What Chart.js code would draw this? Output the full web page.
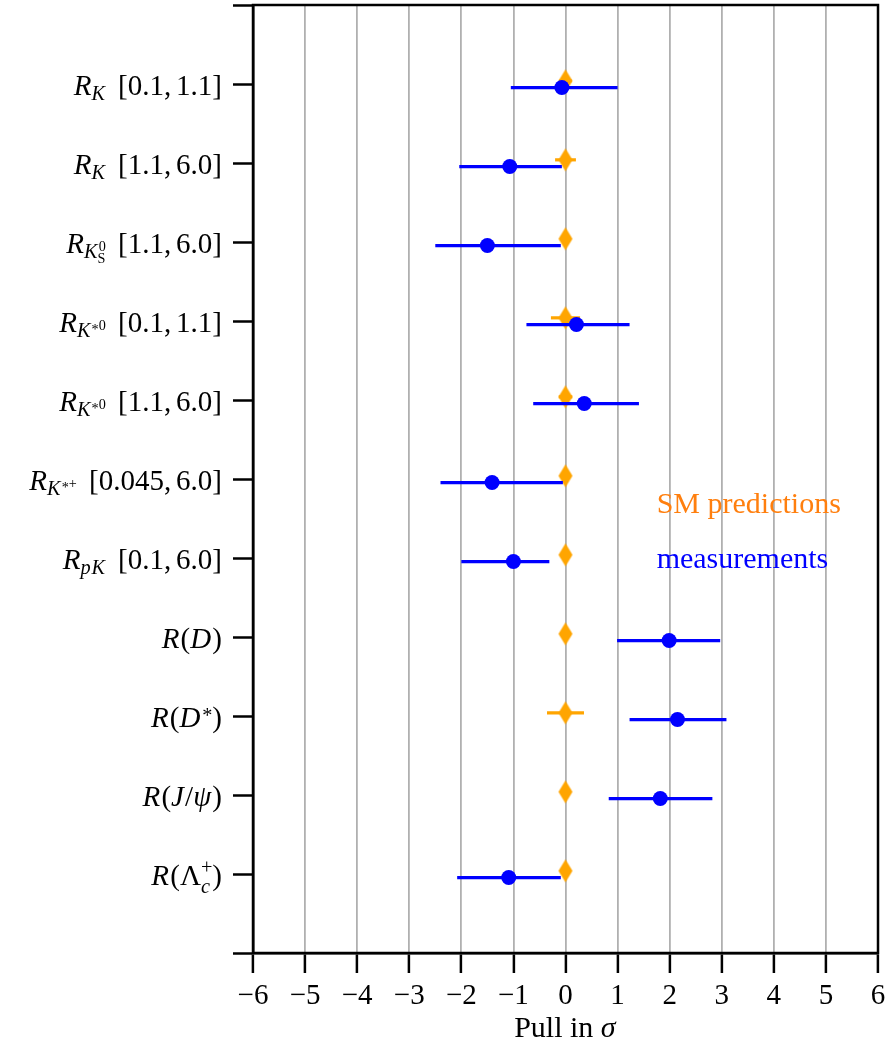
<!DOCTYPE html>
<html>
<head>
<meta charset="utf-8">
<script src="https://cdn.jsdelivr.net/npm/chart.js@4"></script>
<style>
  body { margin: 0; background: #fff; }
</style>
</head>
<body>
<canvas id="pulls" width="886" height="1046"></canvas>
<script>
// labels in matplotlib-style mathtext, top row first
const categories = [
  '$R_K$ $[0.1, 1.1]$',
  '$R_K$ $[1.1, 6.0]$',
  '$R_{K^0_\\mathrm{S}}$ $[1.1, 6.0]$',
  '$R_{K^{*0}}$ $[0.1, 1.1]$',
  '$R_{K^{*0}}$ $[1.1, 6.0]$',
  '$R_{K^{*+}}$ $[0.045, 6.0]$',
  '$R_{pK}$ $[0.1, 6.0]$',
  '$R(D)$',
  '$R(D^*)$',
  '$R(J/\\psi)$',
  '$R(\\Lambda_c^+)$'
];
const measured  = [-0.07, -1.07, -1.50, 0.21, 0.36, -1.41, -1.00, 1.99, 2.15, 1.82, -1.09];
const measLow   = [-1.05, -2.04, -2.50, -0.75, -0.62, -2.40, -2.00, 0.99, 1.23, 0.83, -2.08];
const measHigh  = [1.00, -0.07, -0.09, 1.23, 1.41, -0.05, -0.31, 2.97, 3.09, 2.82, -0.09];
const smPred    = [0, 0, 0, 0, 0, 0, 0, 0, 0, 0, 0];
const smErr     = [0.12, 0.20, 0, 0.28, 0.13, 0, 0, 0.10, 0.355, 0, 0];
const xTicks    = [-6, -5, -4, -3, -2, -1, 0, 1, 2, 3, 4, 5, 6];

const SERIF = '"Liberation Serif", "Times New Roman", serif';
const BLUE = '#0000ff', ORANGE = '#ffa500';

// thin diamond marker like matplotlib 'd'
const diamond = document.createElement('canvas');
diamond.width = 16; diamond.height = 25;
(function () {
  const c = diamond.getContext('2d');
  c.fillStyle = ORANGE;
  c.beginPath();
  c.moveTo(8, 1); c.lineTo(15, 12.5); c.lineTo(8, 24); c.lineTo(1, 12.5);
  c.closePath(); c.fill();
})();

// --- tiny mathtext renderer ---
const GREEK = { Lambda: ['Λ', false], psi: ['ψ', true], sigma: ['σ', true] };
function parseMath(s) {
  let i = 0;
  function atom() {
    const c = s[i];
    if (c === '{') { i++; const g = seq('}'); i++; return g; }
    if (c === '\\') {
      const m = /^\\([a-zA-Z]+)/.exec(s.slice(i));
      i += m[0].length;
      if (m[1] === 'mathrm') return atom().map(n => Object.assign(n, { it: false }));
      const g = GREEK[m[1]];
      return [{ t: g[0], it: g[1] }];
    }
    i++;
    // ascii asterisk sits high, pull it down to the math axis
    if (c === '*') return [{ t: '*', it: false, dy: 0.3 }];
    return [{ t: c, it: /[A-Za-z]/.test(c) }];
  }
  function seq(end) {
    const out = [];
    while (i < s.length && s[i] !== end) {
      if (s[i] === ' ') { i++; continue; }
      if (s[i] === '_' || s[i] === '^') {
        const k = s[i] === '_' ? 'sub' : 'sup';
        i++;
        out[out.length - 1][k] = atom();
        continue;
      }
      out.push(...atom());
    }
    return out;
  }
  return seq();
}

function runMath(ctx, nodes, size, x, y, draw) {
  for (const n of nodes) {
    ctx.font = (n.it ? 'italic ' : '') + size + 'px ' + SERIF;
    if (draw) ctx.fillText(n.t, x, y + (n.dy || 0) * size);
    x += ctx.measureText(n.t).width + (n.t === ',' ? size * 0.17 : 0) + (n.it ? size * 0.04 : 0);
    if (n.sub || n.sup) {
      const ss = size * 0.7;
      let xe = x;
      if (n.sub) xe = Math.max(xe, runMath(ctx, n.sub, ss, x - (n.it ? size * 0.04 : 0), y + size * (n.sup ? 0.26 : 0.18), draw));
      if (n.sup) xe = Math.max(xe, runMath(ctx, n.sup, ss, x + (n.it ? size * 0.02 : 0), y - size * 0.38, draw));
      x = xe;
    }
  }
  return x;
}

function runLabel(ctx, str, size, x, y, draw) {
  str.split('$').forEach((part, k) => {
    if (k % 2) x = runMath(ctx, parseMath(part), size, x, y, draw);
    else if (part.trim() === '') x += part.length * size * 0.42;
    else {
      ctx.font = size + 'px ' + SERIF;
      if (draw) ctx.fillText(part, x, y);
      x += ctx.measureText(part).width;
    }
  });
  return x;
}

function drawLabel(ctx, str, size, x, y, align) {
  const w = runLabel(ctx, str, size, 0, 0, false);
  const x0 = align === 'right' ? x - w : align === 'center' ? x - w / 2 : x;
  runLabel(ctx, str, size, x0, y, true);
}

const errorBars = {
  id: 'errorBars',
  beforeDatasetDraw(chart, args) {
    const ds = chart.data.datasets[args.index];
    const xs = chart.scales.x;
    const ctx = chart.ctx;
    ctx.save();
    ctx.strokeStyle = ds.backgroundColor;
    ctx.lineWidth = 3.2;
    args.meta.data.forEach((pt, i) => {
      if (ds.errLow[i] === ds.errHigh[i]) return;
      ctx.beginPath();
      ctx.moveTo(xs.getPixelForValue(ds.errLow[i]), pt.y);
      ctx.lineTo(xs.getPixelForValue(ds.errHigh[i]), pt.y);
      ctx.stroke();
    });
    ctx.restore();
  }
};

const decorations = {
  id: 'decorations',
  afterDraw(chart) {
    const ctx = chart.ctx, a = chart.chartArea;
    const xs = chart.scales.x, ys = chart.scales.y;
    ctx.save();
    ctx.strokeStyle = '#000';
    ctx.lineWidth = 2.5;
    ctx.strokeRect(a.left, a.top, a.right - a.left, a.bottom - a.top);

    ctx.fillStyle = '#000';
    ctx.textBaseline = 'alphabetic';
    categories.forEach((c, i) => {
      drawLabel(ctx, c, 29, a.left - 31, ys.getPixelForValue(i + 1) + 11, 'right');
    });
    drawLabel(ctx, 'Pull in $\\sigma$', 30, (a.left + a.right) / 2, 1037, 'center');

    ctx.font = '30px ' + SERIF;
    ctx.fillStyle = '#ff7f0e';
    ctx.fillText('SM predictions', xs.getPixelForValue(1.75), ys.getPixelForValue(6.43));
    ctx.fillStyle = BLUE;
    ctx.fillText('measurements', xs.getPixelForValue(1.75), ys.getPixelForValue(7.13));
    ctx.restore();
  }
};

new Chart(document.getElementById('pulls'), {
  type: 'scatter',
  data: {
    datasets: [
      {
        label: 'measurements',
        data: measured.map((v, i) => ({ x: v, y: i + 1.045 })),
        errLow: measLow,
        errHigh: measHigh,
        backgroundColor: BLUE,
        borderWidth: 0,
        pointRadius: 7.5,
        order: 0
      },
      {
        label: 'SM predictions',
        data: smPred.map((v, i) => ({ x: v, y: i + 0.96 })),
        errLow: smPred.map((v, i) => v - smErr[i]),
        errHigh: smPred.map((v, i) => v + smErr[i]),
        backgroundColor: ORANGE,
        pointStyle: diamond,
        pointRadius: 8,
        order: 1
      }
    ]
  },
  options: {
    responsive: false,
    animation: false,
    layout: { autoPadding: false, padding: { top: 5, right: 8, left: 0, bottom: 0 } },
    plugins: { legend: { display: false }, tooltip: { enabled: false } },
    scales: {
      x: {
        type: 'linear',
        min: -6, max: 6,
        afterBuildTicks: s => { s.ticks = xTicks.map(v => ({ value: v })); },
        afterFit: s => { s.height = 93; s.paddingLeft = 0; s.paddingRight = 0; },
        ticks: {
          autoSkip: false, maxRotation: 0, padding: 6,
          color: '#000',
          font: { family: SERIF, size: 29 },
          callback: v => String(v).replace('-', '\u2212')
        },
        grid: { color: '#b0b0b0', lineWidth: 1.8, tickColor: '#000', tickWidth: 2.5, tickLength: 20 },
        border: { color: '#000', width: 2.5 }
      },
      y: {
        type: 'linear',
        reverse: true,
        min: 0, max: 12,
        afterFit: s => { s.width = 253; s.paddingTop = 0; s.paddingBottom = 0; },
        ticks: { stepSize: 1, autoSkip: false, font: { size: 1 }, callback: () => '' },
        grid: { drawOnChartArea: false, tickColor: '#000', tickWidth: 2.5, tickLength: 20 },
        border: { color: '#000', width: 2.5 }
      }
    }
  },
  plugins: [errorBars, decorations]
});
</script>
</body>
</html>
